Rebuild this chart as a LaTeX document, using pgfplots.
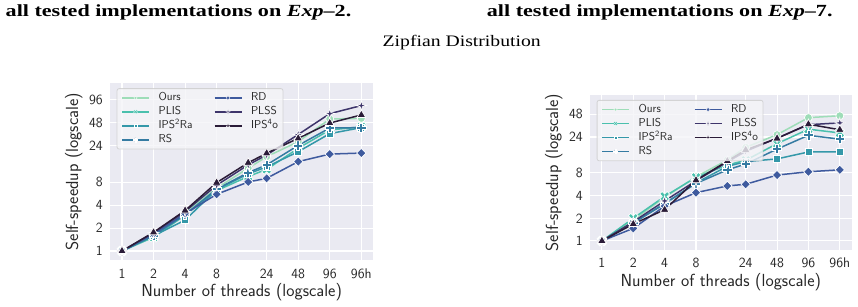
\documentclass[border=0pt]{standalone}
\usepackage{fontspec}
\setmainfont{Liberation Serif}
\usepackage{pgfplots}
\usepackage{pgfplotstable}
\pgfplotsset{compat=1.18}

% seaborn "mako" palette, light to dark
\definecolor{cOurs}{HTML}{9EDDB8}
\definecolor{cPLIS}{HTML}{4AC0AD}
\definecolor{cIPSRa}{HTML}{3498A9}
\definecolor{cRS}{HTML}{357BA2}
\definecolor{cRD}{HTML}{3E5A9E}
\definecolor{cPLSS}{HTML}{3E356B}
\definecolor{cIPSo}{HTML}{2B1C38}
\definecolor{bgc}{HTML}{EAEAF2}
\definecolor{txt}{HTML}{262626}
\definecolor{legf}{HTML}{F4F4F8}
\definecolor{legd}{HTML}{CCCCCC}

% filled plus
\pgfdeclareplotmark{Pfill}{%
  \pgfpathmoveto{\pgfqpoint{0.33\pgfplotmarksize}{\pgfplotmarksize}}%
  \pgfpathlineto{\pgfqpoint{0.33\pgfplotmarksize}{0.33\pgfplotmarksize}}%
  \pgfpathlineto{\pgfqpoint{\pgfplotmarksize}{0.33\pgfplotmarksize}}%
  \pgfpathlineto{\pgfqpoint{\pgfplotmarksize}{-0.33\pgfplotmarksize}}%
  \pgfpathlineto{\pgfqpoint{0.33\pgfplotmarksize}{-0.33\pgfplotmarksize}}%
  \pgfpathlineto{\pgfqpoint{0.33\pgfplotmarksize}{-\pgfplotmarksize}}%
  \pgfpathlineto{\pgfqpoint{-0.33\pgfplotmarksize}{-\pgfplotmarksize}}%
  \pgfpathlineto{\pgfqpoint{-0.33\pgfplotmarksize}{-0.33\pgfplotmarksize}}%
  \pgfpathlineto{\pgfqpoint{-\pgfplotmarksize}{-0.33\pgfplotmarksize}}%
  \pgfpathlineto{\pgfqpoint{-\pgfplotmarksize}{0.33\pgfplotmarksize}}%
  \pgfpathlineto{\pgfqpoint{-0.33\pgfplotmarksize}{0.33\pgfplotmarksize}}%
  \pgfpathlineto{\pgfqpoint{-0.33\pgfplotmarksize}{\pgfplotmarksize}}%
  \pgfpathclose
  \pgfusepathqfillstroke}
% filled X
\pgfdeclareplotmark{Xfill}{%
  \pgftransformrotate{45}%
  \pgfuseplotmark{Pfill}}
% symmetric diamond
\pgfdeclareplotmark{Dfill}{%
  \pgfpathmoveto{\pgfqpoint{0pt}{\pgfplotmarksize}}%
  \pgfpathlineto{\pgfqpoint{\pgfplotmarksize}{0pt}}%
  \pgfpathlineto{\pgfqpoint{0pt}{-\pgfplotmarksize}}%
  \pgfpathlineto{\pgfqpoint{-\pgfplotmarksize}{0pt}}%
  \pgfpathclose
  \pgfusepathqfillstroke}
% four-pointed star
\pgfdeclareplotmark{Sfill}{%
  \pgfpathmoveto{\pgfqpoint{0pt}{\pgfplotmarksize}}%
  \pgfpathlineto{\pgfqpoint{0.22\pgfplotmarksize}{0.22\pgfplotmarksize}}%
  \pgfpathlineto{\pgfqpoint{\pgfplotmarksize}{0pt}}%
  \pgfpathlineto{\pgfqpoint{0.22\pgfplotmarksize}{-0.22\pgfplotmarksize}}%
  \pgfpathlineto{\pgfqpoint{0pt}{-\pgfplotmarksize}}%
  \pgfpathlineto{\pgfqpoint{-0.22\pgfplotmarksize}{-0.22\pgfplotmarksize}}%
  \pgfpathlineto{\pgfqpoint{-\pgfplotmarksize}{0pt}}%
  \pgfpathlineto{\pgfqpoint{-0.22\pgfplotmarksize}{0.22\pgfplotmarksize}}%
  \pgfpathclose
  \pgfusepathqfillstroke}

% self-speedup, x = log2(threads); last row is 96 threads with hyperthreading
\pgfplotstableread{
x      Ours PLIS IPSRa RS   RD   PLSS IPSo
0      1    1    1     1    1    1    1
1      1.62 1.52 1.58  1.60 1.68 1.74 1.76
2      3.2  2.95 2.55  3.0  3.1  3.3  3.4
3      6.7  6.2  6.4   6.5  5.55 7.3  7.9
4      12.2 9.5  10.3  10.7 8.05 13.5 14.4
4.585  17.3 11.8 12.7  13.5 9.0  18.2 19.2
5.585  27.2 22.3 20.1  24.3 14.9 33.8 30.1
6.585  54   38.8 34.7  41.1 18.7 63.4 47.8
7.585  55   42.5 41.6  41.6 19.3 81   61
}\expTwo

\pgfplotstableread{
x      Ours PLIS IPSRa RS   RD   PLSS IPSo
0      1    1    1     1    1    1    1
1      1.9  2.0  1.75  1.72 1.47 1.8  1.68
2      3.8  3.9  3.1   3.15 2.9  3.4  2.6
3      7.1  7.0  5.9   5.8  4.38 6.3  6.4
4      11.9 10.2 9.8   8.8  5.38 11.2 11.5
4.585  17.5 11.8 11.3  10.5 5.66 15.5 16.2
5.585  25.8 19.6 12.3  16.6 7.5  23.2 23
6.585  43.4 30.5 15.2  25.3 8.3  35   35.5
7.585  46   27.2 15.3  22.5 8.8  37   30
}\expSeven

\pgfplotsset{
  mk/.style={mark options={fill=#1, draw=white, line width=0.7pt, solid}},
  sOurs/.style={color=cOurs, line width=1.5pt, mark=*, mark size=4.0pt, mk=cOurs},
  sPLIS/.style={color=cPLIS, line width=1.5pt, mark=Xfill, mark size=5.2pt, mk=cPLIS},
  sIPSRa/.style={color=cIPSRa, line width=1.5pt, mark=square*, mark size=3.5pt, mk=cIPSRa},
  sRS/.style={color=cRS, line width=1.5pt, mark=Pfill, mark size=4.6pt, mk=cRS},
  sRD/.style={color=cRD, line width=1.5pt, mark=Dfill, mark size=4.7pt, mk=cRD},
  sPLSS/.style={color=cPLSS, line width=1.5pt, mark=Sfill, mark size=5.2pt, mk=cPLSS},
  sIPSo/.style={color=cIPSo, line width=1.5pt, mark=triangle*, mark size=5.0pt, mk=cIPSo},
  legend image code/.code={%
    \draw[opacity=1, line width=1.5pt, every mark/.append style={scale=0.42, line width=0.3pt},
          mark repeat=2, mark phase=2]
      plot coordinates {(0pt,0pt) (13.5pt,0pt) (27pt,0pt)};%
  },
}

\begin{document}
\begin{tikzpicture}
\path[use as bounding box] (0pt,0pt) rectangle (858pt,307pt);

\node[anchor=base west, inner sep=0pt] at (5.5pt,290pt)
  {\scalebox{1.3}[1]{\fontsize{17}{20}\selectfont\bfseries all tested implementations on \textit{Exp}--2.}};
\node[anchor=base west, inner sep=0pt] at (486.7pt,290pt)
  {\scalebox{1.3}[1]{\fontsize{17}{20}\selectfont\bfseries all tested implementations on \textit{Exp}--7.}};
\node[anchor=base, inner sep=0pt] at (461.7pt,260.3pt)
  {\scalebox{1.23}[1]{\fontsize{16}{19}\selectfont Zipfian Distribution}};

% Exp-2
\begin{axis}[
  ymode=log, log basis y=2,
  scale only axis,
  at={(110pt,47pt)}, anchor=south west,
  width=263.3pt, height=176.7pt,
  axis background/.style={fill=bgc},
  axis line style={draw=none},
  grid=major,
  major grid style={white, line width=1.1pt},
  major tick length=0pt,
  xmin=-0.38, xmax=7.965,
  ymin=0.763, ymax=158.7,
  xtick={0,1,2,3,4.585,5.585,6.585,7.585},
  xticklabels={1,2,4,8,24,48,96,96h},
  ytick={1,2,4,8,24,48,96},
  yticklabels={1,2,4,8,24,48,96},
  xticklabel style={font=\fontsize{14}{16}\sffamily, text=txt, anchor=base, yshift=-18pt, inner sep=0pt},
  yticklabel style={font=\fontsize{14}{16}\sffamily, text=txt, anchor=east, xshift=-7pt, inner sep=0pt},
  xlabel={Number of threads (logscale)},
  ylabel={Self-speedup (logscale)},
  xlabel style={font=\fontsize{17.5}{20}\sffamily, text=txt, at={(axis description cs:0.5,0)}, anchor=base, yshift=-36.7pt},
  ylabel style={font=\fontsize{17.5}{20}\sffamily, text=txt, at={(axis description cs:-0.1215,0.5)}, anchor=base},
  legend columns=4,
  transpose legend,
  legend cell align=left,
  legend style={
    at={(0.0254,0.972)}, anchor=north west,
    fill=legf, fill opacity=0.8, draw=legd, draw opacity=0.8, text opacity=1,
    rounded corners=2pt, line width=0.8pt,
    font=\fontsize{11.5}{13}\sffamily, text=txt,
    inner xsep=4.2pt, inner ysep=3pt,
    nodes={inner sep=0.8pt, text height=8.4pt, text depth=2.4pt},
    row sep=1.6pt,
    /tikz/every odd column/.append style={column sep=8pt},
    /tikz/every even column/.append style={column sep=20.5pt},
  },
]
\addplot[sOurs]  table[x=x, y=Ours]  {\expTwo};
\addplot[sPLIS]  table[x=x, y=PLIS]  {\expTwo};
\addplot[sIPSRa] table[x=x, y=IPSRa] {\expTwo};
\addplot[sRS]    table[x=x, y=RS]    {\expTwo};
\addplot[sRD]    table[x=x, y=RD]    {\expTwo};
\addplot[sPLSS]  table[x=x, y=PLSS]  {\expTwo};
\addplot[sIPSo]  table[x=x, y=IPSo]  {\expTwo};
\legend{Ours, PLIS, IPS\textsuperscript{2}Ra, RS, RD, PLSS, IPS\textsuperscript{4}o}
\end{axis}

% Exp-7
\begin{axis}[
  ymode=log, log basis y=2,
  scale only axis,
  at={(590pt,57pt)}, anchor=south west,
  width=261.7pt, height=155pt,
  axis background/.style={fill=bgc},
  axis line style={draw=none},
  grid=major,
  major grid style={white, line width=1.1pt},
  major tick length=0pt,
  xmin=-0.38, xmax=7.965,
  ymin=0.758, ymax=86.8,
  xtick={0,1,2,3,4.585,5.585,6.585,7.585},
  xticklabels={1,2,4,8,24,48,96,96h},
  ytick={1,2,4,8,24,48},
  yticklabels={1,2,4,8,24,48},
  xticklabel style={font=\fontsize{14}{16}\sffamily, text=txt, anchor=base, yshift=-18pt, inner sep=0pt},
  yticklabel style={font=\fontsize{14}{16}\sffamily, text=txt, anchor=east, xshift=-7pt, inner sep=0pt},
  xlabel={Number of threads (logscale)},
  ylabel={Self-speedup (logscale)},
  xlabel style={font=\fontsize{17.5}{20}\sffamily, text=txt, at={(axis description cs:0.5,0)}, anchor=base, yshift=-36.7pt},
  ylabel style={font=\fontsize{17.5}{20}\sffamily, text=txt, at={(axis description cs:-0.1223,0.5)}, anchor=base},
  legend columns=4,
  transpose legend,
  legend cell align=left,
  legend style={
    at={(0.0256,0.968)}, anchor=north west,
    fill=legf, fill opacity=0.8, draw=legd, draw opacity=0.8, text opacity=1,
    rounded corners=2pt, line width=0.8pt,
    font=\fontsize{11.5}{13}\sffamily, text=txt,
    inner xsep=4.2pt, inner ysep=3pt,
    nodes={inner sep=0.8pt, text height=8.4pt, text depth=2.4pt},
    row sep=1.6pt,
    /tikz/every odd column/.append style={column sep=8pt},
    /tikz/every even column/.append style={column sep=20.5pt},
  },
]
\addplot[sOurs]  table[x=x, y=Ours]  {\expSeven};
\addplot[sPLIS]  table[x=x, y=PLIS]  {\expSeven};
\addplot[sIPSRa] table[x=x, y=IPSRa] {\expSeven};
\addplot[sRS]    table[x=x, y=RS]    {\expSeven};
\addplot[sRD]    table[x=x, y=RD]    {\expSeven};
\addplot[sPLSS]  table[x=x, y=PLSS]  {\expSeven};
\addplot[sIPSo]  table[x=x, y=IPSo]  {\expSeven};
\legend{Ours, PLIS, IPS\textsuperscript{2}Ra, RS, RD, PLSS, IPS\textsuperscript{4}o}
\end{axis}
\end{tikzpicture}
\end{document}
